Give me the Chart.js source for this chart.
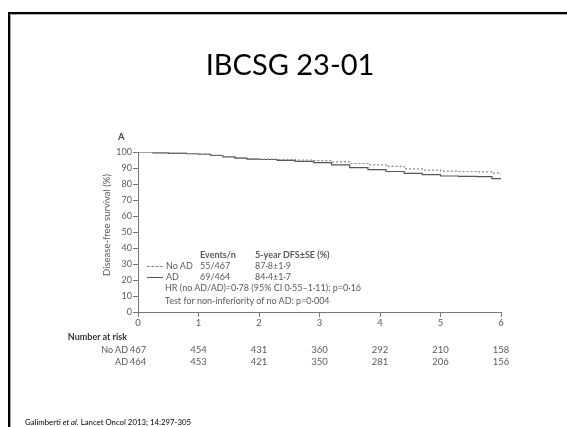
<!DOCTYPE html>
<html><head><meta charset="utf-8">
<script src="https://cdn.jsdelivr.net/npm/chart.js@4.4.1/dist/chart.umd.min.js"></script>
<style>
html,body{margin:0;padding:0;background:#fff;}
#wrap{position:relative;width:567px;height:427px;overflow:hidden;background:#fff;font-family:Lato,"Open Sans",sans-serif;}
#frame{position:absolute;left:8px;top:12px;width:700px;height:600px;border-left:2px solid #000;border-top:2px solid #000;box-shadow:inset 1px 1px 0 #aaa;}
canvas{position:absolute;left:0;top:0;}
.t{position:absolute;white-space:nowrap;color:#5a5a5a;font-family:Lato,"Open Sans",sans-serif;font-size:9px;line-height:1;}
#title{position:absolute;left:0;width:580px;text-align:center;top:47px;font-family:Lato,sans-serif;font-size:29px;color:#000;line-height:1.2;}
#cite{position:absolute;left:25px;top:417px;font-family:Lato,sans-serif;font-size:7.8px;color:#000;white-space:nowrap;}
.sw{position:absolute;height:0;width:16px;}
</style></head>
<body>
<div id="wrap">
<div id="frame"></div>
<canvas id="c" width="567" height="427"></canvas>
<div id="title">IBCSG 23-01</div>
<div id="cite">Galimberti <i>et al</i>. Lancet Oncol 2013; 14:297-305</div>
<div id="layer"></div>
</div>
<script>
// ---- data ----
const yearTicks = [0, 1, 2, 3, 4, 5, 6];
const noAdTime = [0, 0.25, 0.5, 0.8, 1.0, 1.2, 1.4, 1.6, 1.8, 2.0, 2.3, 2.6, 2.9, 3.2, 3.5, 3.8, 4.1, 4.4, 4.7, 5.0, 5.3, 5.6, 5.85, 6.0];
const noAdSurv = [100, 99.6, 99.3, 99.0, 98.7, 98.0, 97.2, 96.4, 95.8, 95.6, 95.3, 95.0, 94.6, 93.8, 92.8, 92.0, 91.0, 89.4, 88.7, 88.0, 87.8, 87.6, 86.8, 86.0];
const adTime = [0, 0.25, 0.5, 0.8, 1.0, 1.2, 1.4, 1.6, 1.8, 2.0, 2.3, 2.6, 2.9, 3.2, 3.5, 3.8, 4.1, 4.4, 4.7, 5.0, 5.3, 5.6, 5.85, 6.0];
const adSurv = [100, 99.5, 99.2, 98.9, 98.6, 97.8, 97.0, 96.2, 95.6, 95.3, 94.8, 94.2, 93.4, 92.0, 90.2, 89.0, 87.8, 86.6, 85.8, 85.0, 84.8, 84.6, 83.4, 83.2];
const riskNoAd = [467, 454, 431, 360, 292, 210, 158];
const riskAd = [464, 453, 421, 350, 281, 206, 156];
const seriesNames = ["No AD", "AD"];
const eventsN = ["55/467", "69/464"];
const dfs5 = ["87·8±1·9", "84·4±1·7"];

const toPts = (t, v) => t.map((x, i) => ({x: x, y: v[i]}));

const layer = document.getElementById('layer');
function addText(txt, left, top, opts) {
  const d = document.createElement('div');
  d.className = 't';
  d.textContent = txt;
  d.style.left = left + 'px';
  d.style.top = top + 'px';
  if (opts) Object.assign(d.style, opts);
  layer.appendChild(d);
  return d;
}

const riskPlugin = {
  id: 'riskTable',
  afterRender(chart) {
    if (chart._riskDone) return;
    chart._riskDone = true;
    const xs = chart.scales.x;
    yearTicks.forEach((yr, i) => {
      const px = xs.getPixelForValue(yr);
      addText(String(riskNoAd[i]), px - 20, 345, {width: '40px', textAlign: 'center', fontSize: '9.5px'});
      addText(String(riskAd[i]), px - 20, 357, {width: '40px', textAlign: 'center', fontSize: '9.5px'});
    });
  }
};

new Chart(document.getElementById('c'), {
  type: 'line',
  data: {
    datasets: [
      {label: seriesNames[0], data: toPts(noAdTime, noAdSurv), stepped: true, borderColor: '#8a8a8a', borderWidth: 1.2, borderDash: [2, 2], pointRadius: 0, fill: false},
      {label: seriesNames[1], data: toPts(adTime, adSurv), stepped: true, borderColor: '#555', borderWidth: 1.2, pointRadius: 0, fill: false}
    ]
  },
  options: {
    responsive: false,
    animation: false,
    events: [],
    layout: {padding: {left: 106, top: 152, right: 66, bottom: 95}},
    plugins: {legend: {display: false}, tooltip: {enabled: false}},
    scales: {
      x: {
        type: 'linear', min: 0, max: 6,
        afterFit(s) { s.height = 20; },
        ticks: {stepSize: 1, color: '#5a5a5a', font: {family: 'Lato', size: 9.5}, padding: 0},
        grid: {drawOnChartArea: false, drawTicks: true, tickLength: 5, color: '#777'},
        border: {color: '#777', width: 1}
      },
      y: {
        min: 0, max: 100,
        afterFit(s) { s.width = 32; },
        ticks: {stepSize: 10, color: '#5a5a5a', font: {family: 'Lato', size: 9}, padding: 1},
        grid: {drawOnChartArea: false, drawTicks: true, tickLength: 5, color: '#777'},
        border: {color: '#777', width: 1}
      }
    }
  },
  plugins: [riskPlugin]
});

// static figure text
addText('A', 118, 132, {fontSize: '9.5px', fontWeight: 'bold', color: '#444'});
addText('Disease-free survival (%)', 107, 225, {transform: 'translate(-50%,-50%) rotate(-90deg)', fontSize: '9.5px'});
addText('Events/n', 200, 250, {fontWeight: 'bold'});
addText('5-year DFS±SE (%)', 255, 250, {fontWeight: 'bold'});
addText(seriesNames[0], 166, 261);
addText(eventsN[0], 200, 261);
addText(dfs5[0], 255, 261);
addText(seriesNames[1], 166, 272);
addText(eventsN[1], 200, 272);
addText(dfs5[1], 255, 272);
addText('HR (no AD/AD)=0·78 (95% CI 0·55–1·11); p=0·16', 165, 283);
addText('Test for non-inferiority of no AD: p=0·004', 165, 296);
const s1 = document.createElement('div'); s1.className = 'sw';
Object.assign(s1.style, {left: '147px', top: '266px', borderTop: '1px dashed #8a8a8a'}); layer.appendChild(s1);
const s2 = document.createElement('div'); s2.className = 'sw';
Object.assign(s2.style, {left: '147px', top: '277px', borderTop: '1px solid #555'}); layer.appendChild(s2);
addText('Number at risk', 127, 332, {transform: 'translateX(-100%)', fontWeight: 'bold', color: '#333', fontSize: '9px'});
addText(seriesNames[0], 128, 345, {transform: 'translateX(-100%)'});
addText(seriesNames[1], 128, 357, {transform: 'translateX(-100%)'});
</script>
</body></html>
